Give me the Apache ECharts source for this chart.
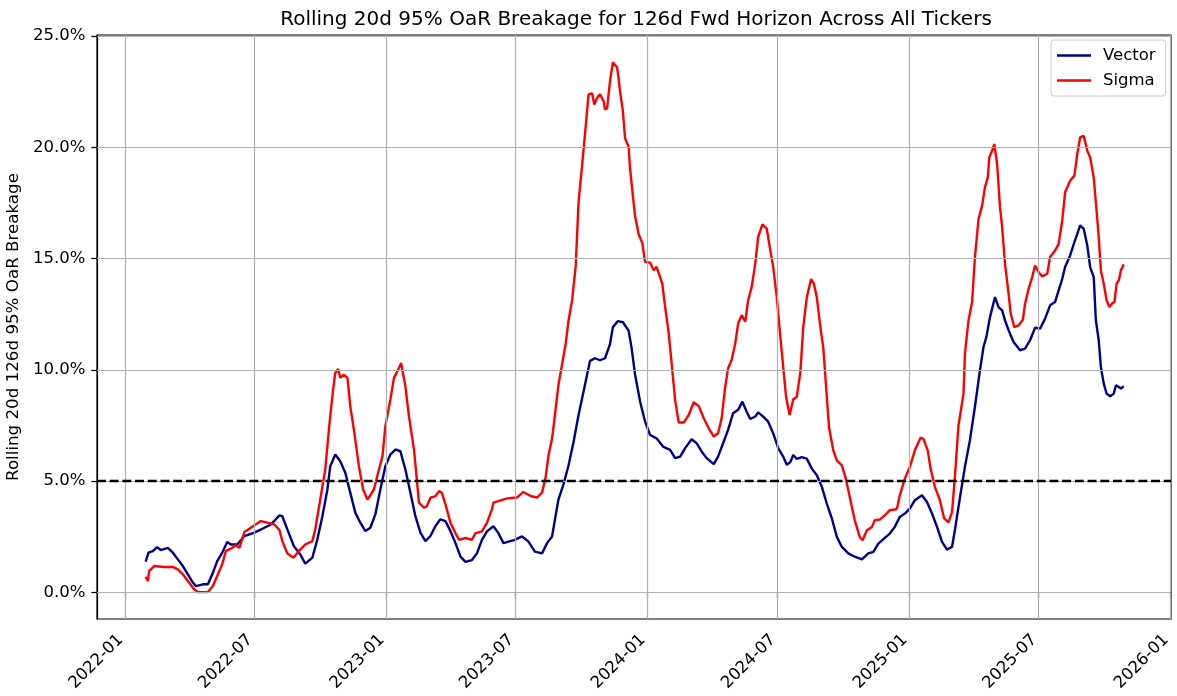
<!DOCTYPE html>
<html>
<head>
<meta charset="utf-8">
<script src="https://cdn.jsdelivr.net/npm/echarts@6/dist/echarts.min.js"></script>
<style>
html,body{margin:0;padding:0;background:#fff;}
#chart{width:1177px;height:696px;}
</style>
</head>
<body>
<div id="chart"></div>
<script>
// ---------------- DATA ----------------
const titleText = 'Rolling 20d 95% OaR Breakage for 126d Fwd Horizon Across All Tickers';
const yAxisLabel = 'Rolling 20d 126d 95% OaR Breakage';
const seriesNames = ['Vector', 'Sigma'];
const thresholdValue = 5;
const yTickValues = [0, 5, 10, 15, 20, 25];
const xTickDates = ['2022-01-01','2022-07-01','2023-01-01','2023-07-01','2024-01-01','2024-07-01','2025-01-01','2025-07-01','2026-01-01'];
const xRange = ['2021-11-23', '2026-01-02'];
const yRange = [-1.2, 25.05];

const vectorData = [
['2022-01-30',1.38],['2022-02-03',1.78],['2022-02-09',1.85],['2022-02-15',2.03],['2022-02-20',1.90],
['2022-03-02',2.00],['2022-03-09',1.78],['2022-03-16',1.48],['2022-03-23',1.18],['2022-03-30',0.81],
['2022-04-06',0.44],['2022-04-10',0.28],['2022-04-20',0.36],['2022-04-27',0.36],['2022-05-04',0.88],
['2022-05-10',1.40],['2022-05-17',1.78],['2022-05-24',2.26],['2022-05-29',2.15],['2022-06-07',2.15],
['2022-06-17',2.53],['2022-07-01',2.68],['2022-07-15',2.90],['2022-07-24',3.05],['2022-08-05',3.46],
['2022-08-09',3.42],['2022-08-16',2.83],['2022-08-25',2.08],['2022-09-03',1.71],['2022-09-10',1.29],
['2022-09-20',1.56],['2022-09-27',2.38],['2022-10-04',3.42],['2022-10-11',4.62],['2022-10-15',5.67],
['2022-10-22',6.19],['2022-10-29',5.89],['2022-11-05',5.37],['2022-11-12',4.47],['2022-11-19',3.58],
['2022-11-26',3.13],['2022-12-03',2.75],['2022-12-10',2.90],['2022-12-17',3.50],['2022-12-24',4.62],
['2022-12-31',5.67],['2023-01-07',6.19],['2023-01-14',6.42],['2023-01-21',6.34],['2023-01-28',5.52],
['2023-02-04',4.47],['2023-02-11',3.42],['2023-02-18',2.68],['2023-02-25',2.30],['2023-03-04',2.53],
['2023-03-11',2.98],['2023-03-18',3.28],['2023-03-25',3.20],['2023-04-01',2.75],['2023-04-08',2.21],
['2023-04-15',1.60],['2023-04-22',1.37],['2023-05-01',1.45],['2023-05-08',1.75],['2023-05-15',2.36],
['2023-05-22',2.74],['2023-05-31',2.97],['2023-06-07',2.66],['2023-06-14',2.21],['2023-06-21',2.28],
['2023-06-30',2.36],['2023-07-10',2.51],['2023-07-19',2.28],['2023-07-28',1.83],['2023-08-07',1.75],
['2023-08-14',2.21],['2023-08-21',2.51],['2023-08-25',3.27],['2023-08-30',4.18],['2023-09-06',4.86],
['2023-09-13',5.70],['2023-09-20',6.76],['2023-09-27',7.97],['2023-10-04',9.03],['2023-10-09',9.79],
['2023-10-13',10.40],['2023-10-20',10.52],['2023-10-27',10.43],['2023-11-03',10.52],['2023-11-10',11.16],
['2023-11-14',11.92],['2023-11-21',12.19],['2023-11-28',12.14],['2023-12-06',11.76],['2023-12-10',11.01],
['2023-12-15',9.79],['2023-12-22',8.58],['2023-12-29',7.67],['2024-01-05',7.07],['2024-01-14',6.92],
['2024-01-23',6.55],['2024-02-02',6.40],['2024-02-09',6.03],['2024-02-16',6.10],['2024-02-23',6.48],
['2024-03-03',6.88],['2024-03-10',6.70],['2024-03-17',6.33],['2024-03-24',6.03],['2024-04-03',5.76],
['2024-04-09',6.10],['2024-04-16',6.70],['2024-04-23',7.30],['2024-04-30',8.05],['2024-05-07',8.20],
['2024-05-13',8.57],['2024-05-19',8.12],['2024-05-24',7.79],['2024-05-31',7.90],['2024-06-04',8.09],
['2024-06-11',7.90],['2024-06-18',7.67],['2024-06-25',7.15],['2024-07-02',6.48],['2024-07-09',6.10],
['2024-07-14',5.73],['2024-07-19',5.85],['2024-07-23',6.17],['2024-07-28',6.00],['2024-08-04',6.08],
['2024-08-11',6.01],['2024-08-18',5.56],['2024-08-25',5.26],['2024-09-01',4.74],['2024-09-08',3.99],
['2024-09-15',3.32],['2024-09-22',2.49],['2024-09-29',2.04],['2024-10-08',1.75],['2024-10-17',1.60],
['2024-10-27',1.48],['2024-11-05',1.75],['2024-11-12',1.82],['2024-11-19',2.19],['2024-11-28',2.45],
['2024-12-05',2.64],['2024-12-12',2.94],['2024-12-19',3.39],['2024-12-26',3.54],['2025-01-02',3.76],
['2025-01-09',4.14],['2025-01-19',4.36],['2025-01-26',4.06],['2025-02-02',3.54],['2025-02-09',2.94],
['2025-02-16',2.27],['2025-02-23',1.92],['2025-03-02',2.05],['2025-03-06',2.80],['2025-03-13',4.25],
['2025-03-20',5.64],['2025-03-27',6.84],['2025-04-03',8.34],['2025-04-10',9.98],['2025-04-15',11.03],
['2025-04-19',11.48],['2025-04-24',12.37],['2025-04-27',12.75],['2025-05-01',13.27],['2025-05-06',12.82],
['2025-05-11',12.67],['2025-05-15',12.22],['2025-05-20',11.78],['2025-05-27',11.25],['2025-06-05',10.88],
['2025-06-12',10.95],['2025-06-19',11.33],['2025-06-26',11.89],['2025-07-03',11.85],['2025-07-10',12.30],
['2025-07-17',12.90],['2025-07-24',13.05],['2025-07-29',13.57],['2025-08-03',14.09],['2025-08-07',14.62],
['2025-08-14',15.14],['2025-08-20',15.74],['2025-08-24',16.11],['2025-08-28',16.49],['2025-09-02',16.34],
['2025-09-07',15.59],['2025-09-11',14.62],['2025-09-16',14.17],['2025-09-19',12.22],['2025-09-23',11.33],
['2025-09-26',10.13],['2025-09-30',9.38],['2025-10-04',8.93],['2025-10-09',8.81],['2025-10-14',8.93],
['2025-10-17',9.31],['2025-10-21',9.23],['2025-10-24',9.16],['2025-10-28',9.26]
];

const sigmaData = [
['2022-01-30',0.70],['2022-02-02',0.51],['2022-02-04',0.96],['2022-02-11',1.18],['2022-02-25',1.14],
['2022-03-09',1.14],['2022-03-16',1.03],['2022-03-23',0.81],['2022-03-30',0.51],['2022-04-08',0.13],
['2022-04-13',0.01],['2022-04-27',0.01],['2022-05-04',0.28],['2022-05-10',0.73],['2022-05-17',1.26],
['2022-05-22',1.85],['2022-05-29',1.96],['2022-06-05',2.11],['2022-06-10',2.00],['2022-06-17',2.71],
['2022-06-26',2.90],['2022-07-10',3.20],['2022-07-19',3.13],['2022-07-29',3.05],['2022-08-05',2.80],
['2022-08-09',2.30],['2022-08-16',1.75],['2022-08-21',1.63],['2022-08-25',1.56],['2022-09-01',1.85],
['2022-09-10',2.15],['2022-09-20',2.30],['2022-09-24',2.83],['2022-10-01',4.17],['2022-10-08',5.52],
['2022-10-14',7.62],['2022-10-19',9.11],['2022-10-22',9.86],['2022-10-26',10.04],['2022-10-29',9.64],
['2022-11-03',9.78],['2022-11-08',9.64],['2022-11-12',8.36],['2022-11-17',7.32],['2022-11-24',5.67],
['2022-11-30',4.62],['2022-12-06',4.17],['2022-12-15',4.62],['2022-12-22',5.52],['2022-12-27',6.12],
['2022-12-31',7.47],['2023-01-07',8.66],['2023-01-12',9.64],['2023-01-18',10.01],['2023-01-22',10.31],
['2023-01-28',9.26],['2023-02-02',7.91],['2023-02-09',6.42],['2023-02-16',4.03],['2023-02-23',3.80],
['2023-02-27',3.87],['2023-03-04',4.25],['2023-03-11',4.32],['2023-03-16',4.55],['2023-03-20',4.47],
['2023-03-25',3.95],['2023-04-01',3.13],['2023-04-08',2.66],['2023-04-13',2.36],['2023-04-22',2.44],
['2023-05-01',2.36],['2023-05-06',2.66],['2023-05-15',2.74],['2023-05-22',3.12],['2023-05-29',3.73],
['2023-05-31',4.03],['2023-06-10',4.13],['2023-06-21',4.23],['2023-07-03',4.26],['2023-07-12',4.51],
['2023-07-22',4.33],['2023-07-31',4.26],['2023-08-07',4.48],['2023-08-12',5.17],['2023-08-16',6.15],
['2023-08-21',6.91],['2023-08-25',7.97],['2023-08-30',9.34],['2023-09-04',10.25],['2023-09-09',11.16],
['2023-09-13',12.22],['2023-09-18',13.13],['2023-09-23',14.65],['2023-09-27',17.53],['2023-10-02',19.20],
['2023-10-07',20.94],['2023-10-11',22.38],['2023-10-16',22.43],['2023-10-19',21.93],['2023-10-23',22.23],
['2023-10-27',22.38],['2023-11-01',22.08],['2023-11-03',21.70],['2023-11-06',21.77],['2023-11-10',22.99],
['2023-11-14',23.82],['2023-11-20',23.59],['2023-11-24',22.53],['2023-11-28',21.62],['2023-12-01',20.41],
['2023-12-06',20.03],['2023-12-08',19.04],['2023-12-13',17.50],['2023-12-15',16.92],['2023-12-20',16.09],
['2023-12-25',15.71],['2023-12-29',14.85],['2024-01-05',14.82],['2024-01-10',14.48],['2024-01-14',14.63],
['2024-01-22',13.88],['2024-01-26',12.83],['2024-01-31',11.64],['2024-02-05',9.99],['2024-02-09',8.64],
['2024-02-14',7.63],['2024-02-21',7.63],['2024-02-28',7.97],['2024-03-06',8.54],['2024-03-13',8.37],
['2024-03-20',7.82],['2024-03-27',7.37],['2024-04-03',7.00],['2024-04-09',7.15],['2024-04-14',7.82],
['2024-04-19',9.24],['2024-04-23',10.07],['2024-04-28',10.44],['2024-05-03',11.19],['2024-05-07',12.08],
['2024-05-12',12.46],['2024-05-17',12.16],['2024-05-21',13.13],['2024-05-26',13.73],['2024-05-31',14.78],
['2024-06-04',15.97],['2024-06-10',16.54],['2024-06-16',16.35],['2024-06-21',15.37],['2024-06-25',14.63],
['2024-06-30',13.28],['2024-07-05',11.49],['2024-07-09',10.14],['2024-07-13',8.79],['2024-07-18',7.97],
['2024-07-23',8.67],['2024-07-28',8.79],['2024-08-02',9.90],['2024-08-06',11.91],['2024-08-11',13.26],
['2024-08-17',14.08],['2024-08-21',13.86],['2024-08-25',13.26],['2024-08-30',11.91],['2024-09-03',11.02],
['2024-09-07',9.22],['2024-09-11',7.43],['2024-09-17',6.38],['2024-09-22',5.93],['2024-09-29',5.71],
['2024-10-04',5.18],['2024-10-11',4.14],['2024-10-17',3.24],['2024-10-24',2.49],['2024-10-28',2.34],
['2024-11-03',2.79],['2024-11-10',2.94],['2024-11-14',3.24],['2024-11-21',3.27],['2024-11-28',3.46],
['2024-12-05',3.69],['2024-12-12',3.72],['2024-12-15',3.76],['2024-12-19',4.36],['2024-12-26',5.11],
['2025-01-02',5.63],['2025-01-09',6.38],['2025-01-17',6.95],['2025-01-21',6.90],['2025-01-27',6.38],
['2025-01-31',5.56],['2025-02-06',4.74],['2025-02-13',4.14],['2025-02-19',3.32],['2025-02-25',3.14],
['2025-03-02',3.60],['2025-03-06',5.20],['2025-03-11',7.50],['2025-03-18',8.93],['2025-03-20',10.73],
['2025-03-25',12.22],['2025-03-30',13.05],['2025-04-03',15.07],['2025-04-08',16.78],['2025-04-13',17.38],
['2025-04-17',18.21],['2025-04-21',18.65],['2025-04-23',19.55],['2025-04-27',19.85],['2025-04-30',20.15],
['2025-05-04',19.25],['2025-05-08',17.31],['2025-05-11',16.41],['2025-05-15',14.77],['2025-05-20',13.42],
['2025-05-23',12.52],['2025-05-28',11.92],['2025-06-03',12.00],['2025-06-09',12.25],['2025-06-12',12.97],
['2025-06-17',13.64],['2025-06-22',14.17],['2025-06-26',14.69],['2025-07-01',14.39],['2025-07-06',14.20],
['2025-07-13',14.32],['2025-07-17',15.07],['2025-07-24',15.36],['2025-07-29',15.66],['2025-08-03',16.71],
['2025-08-07',17.98],['2025-08-14',18.50],['2025-08-20',18.73],['2025-08-24',19.70],['2025-08-28',20.45],
['2025-09-02',20.52],['2025-09-07',19.85],['2025-09-11',19.55],['2025-09-16',18.65],['2025-09-20',17.16],
['2025-09-23',15.96],['2025-09-26',14.47],['2025-09-30',13.87],['2025-10-04',13.12],['2025-10-08',12.82],
['2025-10-12',13.00],['2025-10-15',13.05],['2025-10-18',13.87],['2025-10-21',14.02],['2025-10-24',14.47],
['2025-10-28',14.74]
];

// ---------------- CHART ----------------
const FONT = 'DejaVu Sans';
function toTime(s) { const p = s.split('-').map(Number); return Date.UTC(p[0], p[1] - 1, p[2]); }
function fmtMonth(v) { const d = new Date(v); return d.getUTCFullYear() + '-' + String(d.getUTCMonth() + 1).padStart(2, '0'); }
const xTicks = xTickDates.map(toTime);
const gridColor = '#b0b0b0';
const toPoints = arr => arr.map(d => [toTime(d[0]), d[1]]);

const chart = echarts.init(document.getElementById('chart'), null, { renderer: 'canvas' });
const option = {
  animation: false,
  backgroundColor: '#ffffff',
  textStyle: { fontFamily: FONT },
  title: {
    text: titleText,
    left: 631, top: 5, textAlign: 'center',
    textStyle: { fontFamily: FONT, fontSize: 20, fontWeight: 'normal', color: '#000' }
  },
  legend: {
    data: seriesNames,
    orient: 'vertical',
    left: 1051, top: 40,
    icon: 'rect', itemWidth: 34, itemHeight: 2.4, itemGap: 8,
    padding: [7, 10, 7, 6],
    borderColor: '#cccccc', borderWidth: 1, borderRadius: 3,
    backgroundColor: 'rgba(255,255,255,0.8)',
    textStyle: { fontFamily: FONT, fontSize: 16.5, color: '#000', padding: [0, 0, 0, 7], lineHeight: 17 }
  },
  grid: {
    left: 97, right: 6, top: 35, bottom: 77,
    outerBoundsMode: 'none', containLabel: false,
    show: true, borderColor: '#000', borderWidth: 1.2, backgroundColor: 'transparent'
  },
  xAxis: {
    type: 'value',
    min: toTime(xRange[0]), max: toTime(xRange[1]),
    splitLine: { show: false },
    axisLine: { show: true, lineStyle: { color: '#000', width: 1.2 } },
    axisTick: { show: true, customValues: xTicks, length: 5.6, lineStyle: { color: '#000', width: 1.2 } },
    axisLabel: {
      customValues: xTicks, rotate: 45, margin: 14, padding: [0, 6, 0, 0],
      fontFamily: FONT, fontSize: 16.5, color: '#000',
      formatter: fmtMonth
    }
  },
  yAxis: {
    type: 'value',
    min: yRange[0], max: yRange[1],
    name: yAxisLabel, nameLocation: 'middle', nameGap: 64.5,
    nameTextStyle: { fontFamily: FONT, fontSize: 16.7, color: '#000' },
    splitLine: { show: false },
    axisLine: { show: true, lineStyle: { color: '#000', width: 1.2 } },
    axisTick: { show: true, customValues: yTickValues, length: 5.6, lineStyle: { color: '#000', width: 1.2 } },
    axisLabel: {
      customValues: yTickValues, margin: 11.5,
      fontFamily: FONT, fontSize: 16.5, color: '#000',
      formatter: function (v) { return Number(v).toFixed(1) + '%'; }
    }
  },
  series: [
    {
      name: 'gridlines', type: 'line', data: [], z: 1, silent: true,
      markLine: {
        silent: true, symbol: 'none', animation: false,
        label: { show: false },
        lineStyle: { color: gridColor, width: 1.2, type: 'solid' },
        data: yTickValues.map(v => ({ yAxis: v })).concat(xTicks.map(t => ({ xAxis: t })))
      }
    },
    {
      name: seriesNames[0], type: 'line', data: toPoints(vectorData), z: 3,
      showSymbol: false, symbol: 'none',
      lineStyle: { color: '#00008b', width: 2.4 }, itemStyle: { color: '#00008b' }
    },
    {
      name: seriesNames[1], type: 'line', data: toPoints(sigmaData), z: 4,
      showSymbol: false, symbol: 'none',
      lineStyle: { color: '#ff0000', width: 2.4 }, itemStyle: { color: '#ff0000' }
    },
    {
      name: 'threshold', type: 'line', data: [], z: 5, silent: true,
      markLine: {
        silent: true, symbol: 'none', animation: false,
        label: { show: false },
        lineStyle: { color: '#000', width: 2.4, type: [8.9, 3.8] },
        data: [{ yAxis: thresholdValue }]
      }
    }
  ]
};
chart.setOption(option);
</script>
</body>
</html>
